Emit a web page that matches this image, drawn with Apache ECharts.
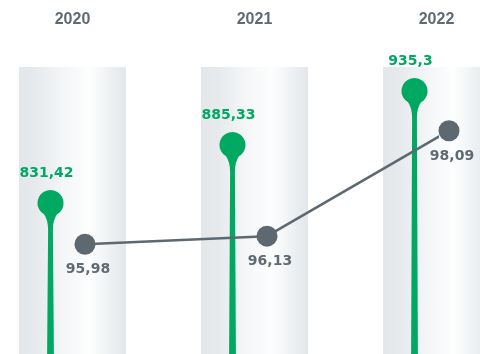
<!DOCTYPE html>
<html>
<head>
<meta charset="utf-8">
<script src="https://cdn.jsdelivr.net/npm/echarts@6/dist/echarts.min.js"></script>
<style>html,body{margin:0;padding:0;background:#fff}#c{width:480px;height:354px}</style>
</head>
<body>
<div id="c"></div>
<script>
const years = ['2020', '2021', '2022'];
const greenValues = [831.42, 885.33, 935.3];
const grayValues = [95.98, 96.13, 98.09];

const GREEN = '#00a862';
const GRAY = '#5d6870';
const fmt = v => String(v).replace('.', ',');
const PIN_OFF = -22;      // px from column centre
const POINT_OFF = 12.5 / 182; // category fraction
const COL_W = 107;

const chart = echarts.init(document.getElementById('c'), null, {renderer: 'canvas'});

const option = {
  animation: false,
  grid: {left: 72.5, right: 43.5, top: 36, bottom: 0, containLabel: false},
  xAxis: [
    {type: 'category', data: years, position: 'top', boundaryGap: false,
     axisLine: {show: false}, axisTick: {show: false}, splitLine: {show: false},
     axisLabel: {margin: 8, color: '#5f6b73', fontFamily: 'Liberation Sans', fontWeight: 'bold', fontSize: 16}},
    {type: 'value', min: 0, max: years.length - 1, show: false}
  ],
  yAxis: [
    {type: 'value', min: 691.3, max: 986.4, show: false},
    {type: 'value', min: 93.94, max: 99.85, show: false}
  ],
  series: [
    {
      type: 'custom', xAxisIndex: 0, yAxisIndex: 0, z: 1, silent: true, clip: false,
      data: years.map((y, i) => [i, greenValues[i]]),
      renderItem: (params, api) => {
        const p = api.coord([api.value(0), api.value(1)]);
        const cs = params.coordSys;
        const top = cs.y + 31;
        const bottom = cs.y + cs.height;
        return {
          type: 'rect',
          shape: {x: p[0] - COL_W / 2, y: top, width: COL_W, height: bottom - top},
          style: {
            fill: new echarts.graphic.LinearGradient(0, 0, 1, 0, [
              {offset: 0, color: '#e3e7ea'},
              {offset: 0.15, color: '#e6eaed'},
              {offset: 0.4, color: '#f3f5f7'},
              {offset: 0.66, color: '#fdfefe'},
              {offset: 0.85, color: '#eef1f3'},
              {offset: 1, color: '#e3e7ea'}
            ])
          }
        };
      }
    },
    {
      type: 'custom', xAxisIndex: 0, yAxisIndex: 0, z: 3, silent: true, clip: false,
      data: years.map((y, i) => [i, greenValues[i]]),
      renderItem: (params, api) => {
        const p = api.coord([api.value(0), api.value(1)]);
        const cs = params.coordSys;
        const bottom = cs.y + cs.height;
        const cx = p[0] + PIN_OFF, cy = p[1];
        const d = `M${cx - 2.4} ${cy + 27} L${cx - 3.4} ${bottom} L${cx + 3.4} ${bottom} L${cx + 2.4} ${cy + 27} ` +
          `Q${cx + 2.4} ${cy + 17} ${cx + 6.5} ${cy + 11.3} A13 13 0 1 0 ${cx - 6.5} ${cy + 11.3} ` +
          `Q${cx - 2.4} ${cy + 17} ${cx - 2.4} ${cy + 27} Z`;
        return {
          type: 'group',
          children: [
            {type: 'path', shape: {pathData: d}, style: {fill: GREEN}},
            {type: 'text', x: cx - 4, y: cy - 30,
             style: {text: fmt(api.value(1)), fill: GREEN, font: 'bold 14px "DejaVu Sans"',
                     align: 'center', verticalAlign: 'middle'}}
          ]
        };
      }
    },
    {
      type: 'line', xAxisIndex: 1, yAxisIndex: 1, z: 4, clip: false,
      data: grayValues.map((v, i) => [i + POINT_OFF, v]),
      symbol: 'circle', symbolSize: 21,
      itemStyle: {color: GRAY},
      lineStyle: {color: GRAY, width: 2.5},
      label: {show: true, position: 'bottom', distance: 8, offset: [3, 0],
              formatter: p => fmt(p.value[1]),
              color: '#5f6a72', fontFamily: 'DejaVu Sans', fontWeight: 'bold', fontSize: 14}
    }
  ]
};
chart.setOption(option);
</script>
</body>
</html>
